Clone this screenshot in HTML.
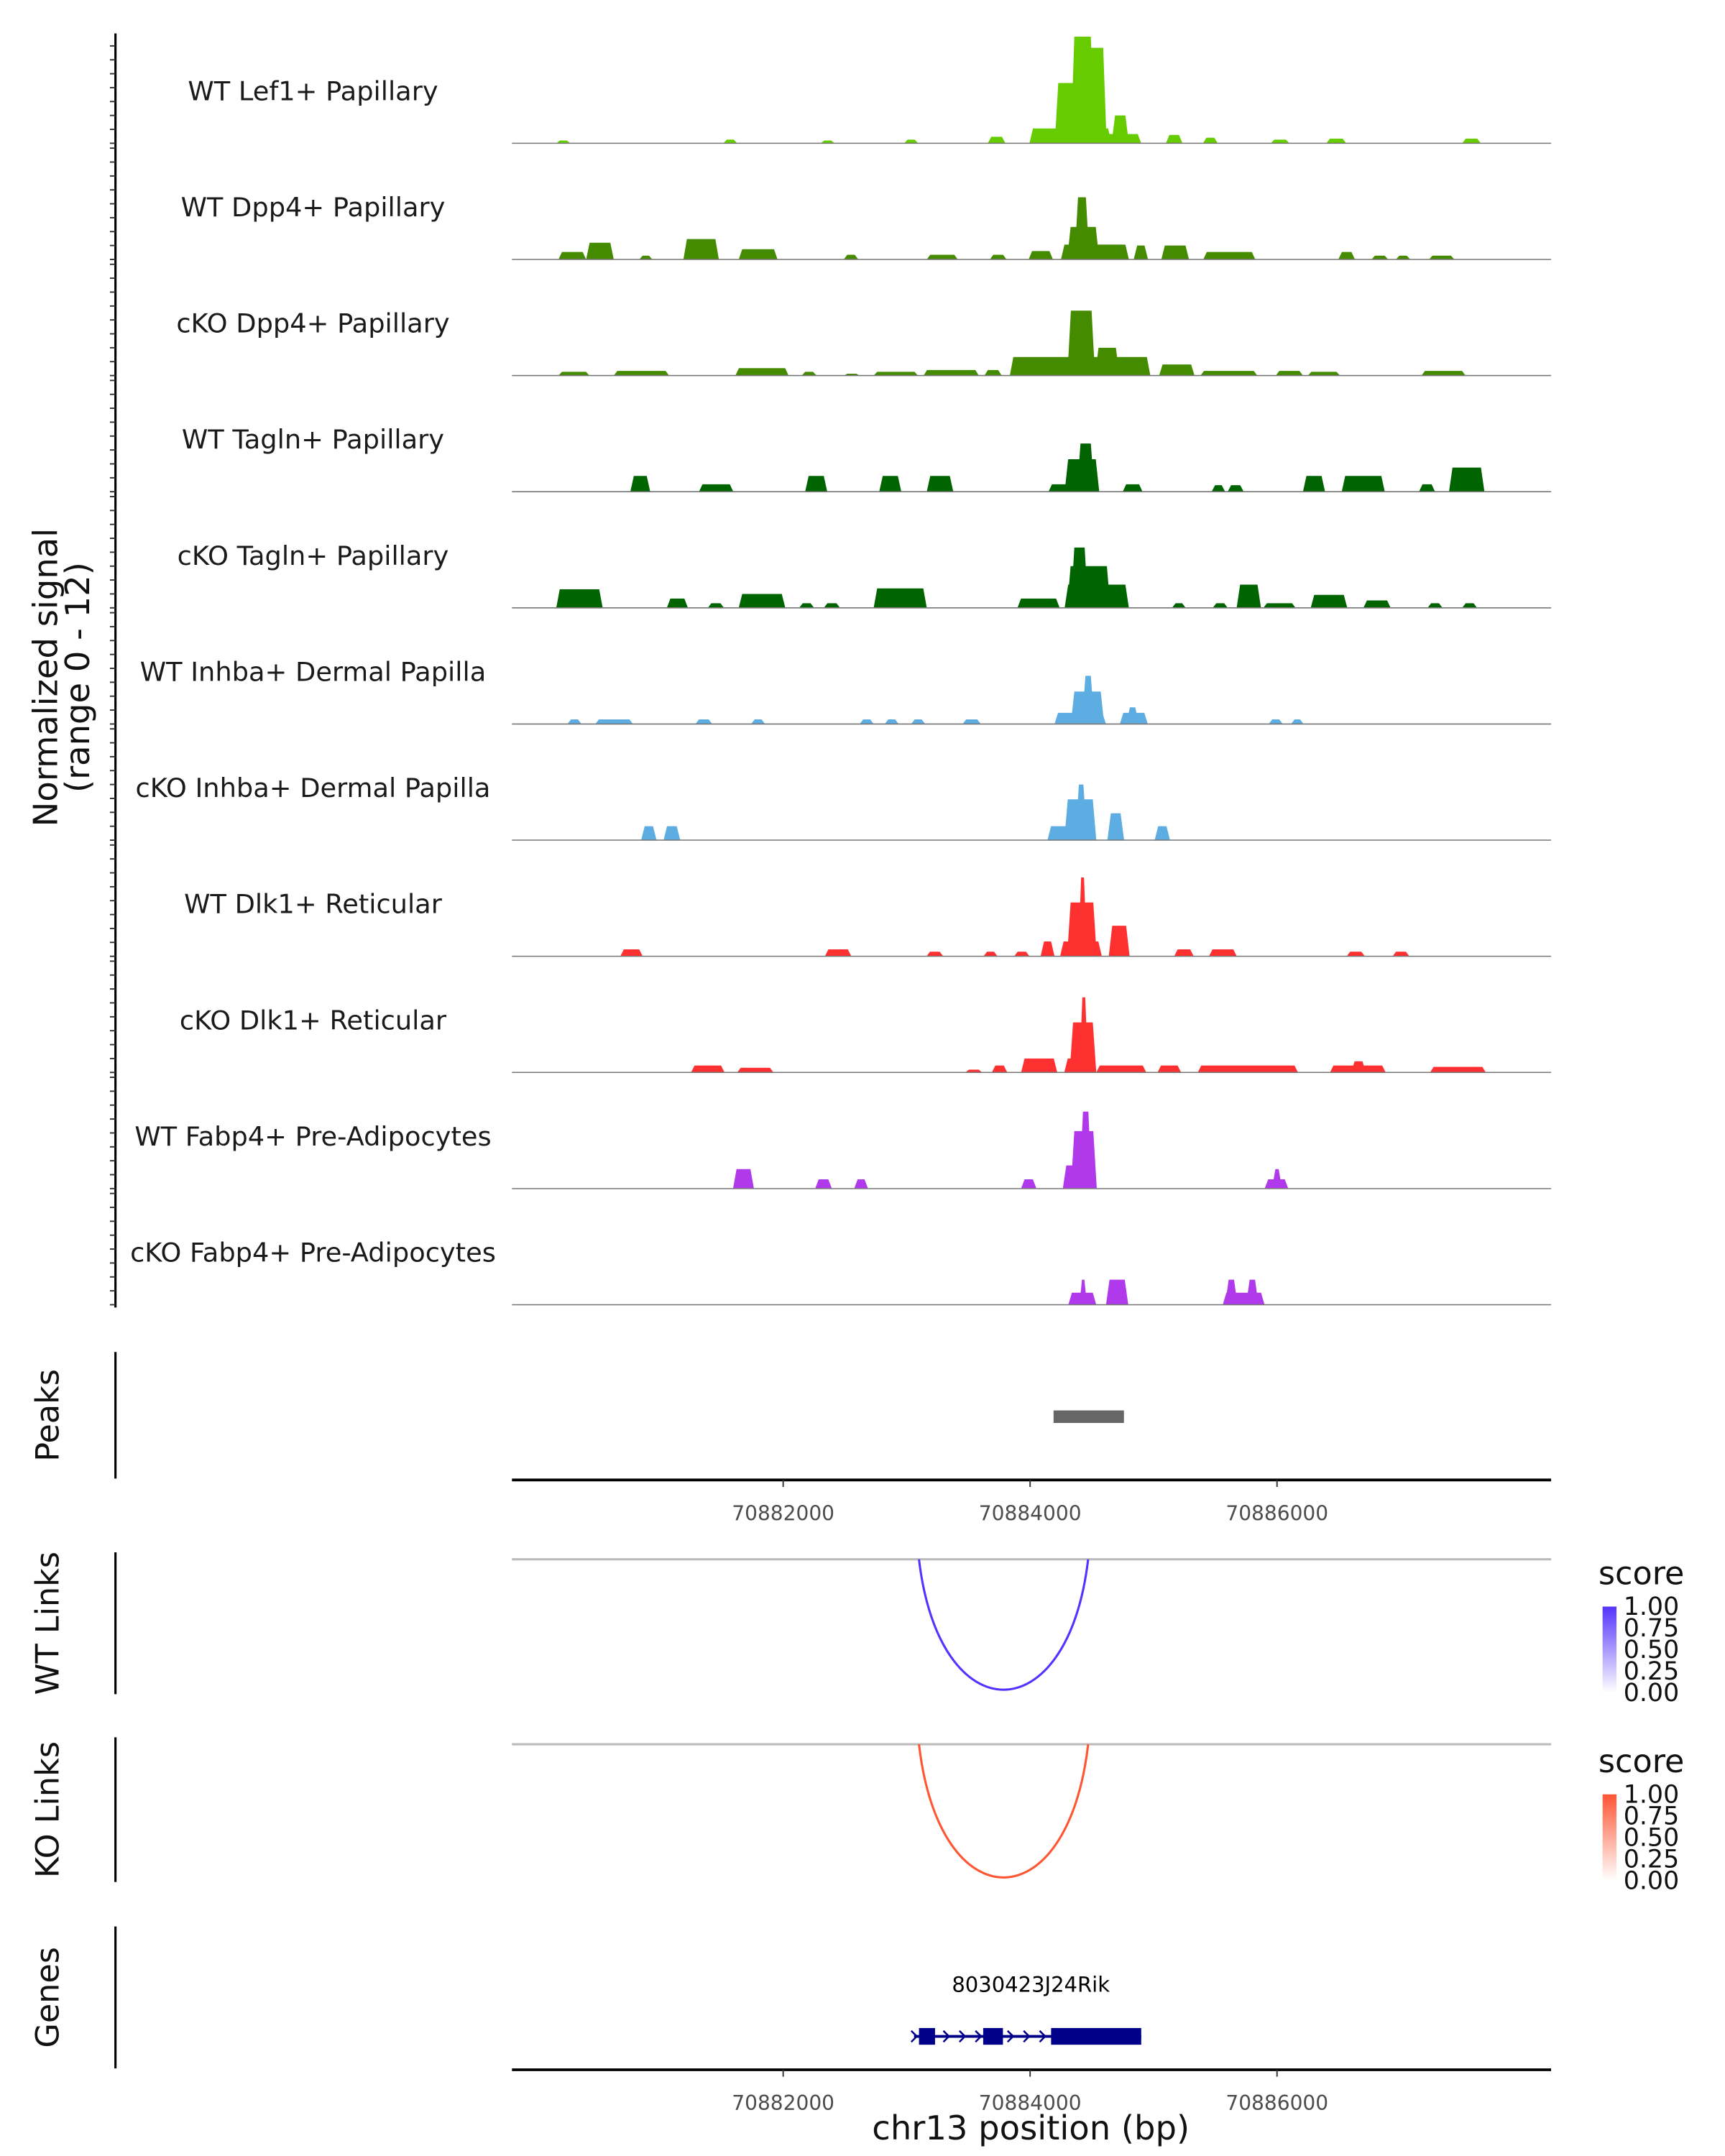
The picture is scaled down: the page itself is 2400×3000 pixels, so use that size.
<!DOCTYPE html>
<html><head><meta charset="utf-8">
<style>
html,body{margin:0;padding:0;background:#fff;}
svg{display:block;font-family:"DejaVu Sans","Liberation Sans",sans-serif;}
</style></head>
<body>
<svg id="chart" xmlns="http://www.w3.org/2000/svg" width="2400" height="3000" viewBox="0 0 1240 1550">
  <g id="tracks"></g>
  <g id="axes"></g>
</svg>
<script>
// ---- data ----
const trackNames = ["WT Lef1+ Papillary","WT Dpp4+ Papillary","cKO Dpp4+ Papillary","WT Tagln+ Papillary","cKO Tagln+ Papillary","WT Inhba+ Dermal Papilla","cKO Inhba+ Dermal Papilla","WT Dlk1+ Reticular","cKO Dlk1+ Reticular","WT Fabp4+ Pre-Adipocytes","cKO Fabp4+ Pre-Adipocytes"];
const trackColors = ["#66cc00","#458b00","#458b00","#006400","#006400","#5dade2","#5dade2","#ff3030","#ff3030","#b03aeb","#b03aeb"];
const xTicks = [70882000,70884000,70886000];
const regionStart = 70879803, regionEnd = 70888220;
const yMax = 12;
// peaks per track: [startBp, endBp, signal]
const sigLef1 = [[70880163,70880276,0.3],[70881515,70881628,0.4],[70882304,70882417,0.3],[70882980,70883093,0.4],[70883657,70883800,0.7],[70883995,70884660,1.6],[70884200,70884420,6.5],[70884330,70884520,11.5],[70884430,70884620,10.3],[70884660,70884800,3],[70884600,70884900,1],[70885100,70885234,0.9],[70885400,70885520,0.6],[70885950,70886100,0.4],[70886400,70886560,0.5],[70887500,70887650,0.5]];
const sigDpp4WT = [[70880180,70880404,0.8],[70880404,70880628,1.8],[70880834,70880941,0.4],[70881192,70881479,2.2],[70881640,70881954,1.1],[70882491,70882608,0.5],[70883163,70883414,0.5],[70883674,70883809,0.5],[70883988,70884185,0.9],[70884250,70884800,1.6],[70884300,70884560,3.5],[70884360,70884480,6.7],[70884839,70884955,1.5],[70885063,70885287,1.5],[70885403,70885824,0.8],[70886497,70886631,0.8],[70886765,70886900,0.4],[70886963,70887079,0.4],[70887231,70887437,0.4]];
const sigDpp4KO = [[70880180,70880431,0.4],[70880628,70881076,0.5],[70881613,70882044,0.8],[70882150,70882270,0.4],[70882491,70882620,0.2],[70882733,70883092,0.4],[70883137,70883585,0.6],[70883630,70883770,0.6],[70883836,70884974,2],[70884302,70884526,7],[70884526,70884723,3],[70885045,70885332,1.2],[70885380,70885840,0.5],[70885990,70886210,0.5],[70886250,70886510,0.4],[70887170,70887527,0.5]];
const sigTaglnWT = [[70880762,70880923,1.7],[70881318,70881596,0.8],[70882178,70882357,1.7],[70882778,70882957,1.7],[70883163,70883378,1.7],[70884149,70884560,0.8],[70884280,70884560,3.5],[70884380,70884520,5.2],[70884750,70884911,0.8],[70885470,70885580,0.7],[70885600,70885730,0.7],[70886210,70886389,1.7],[70886524,70886873,1.7],[70887150,70887280,0.8],[70887393,70887680,2.6]];
const sigTaglnKO = [[70880162,70880538,2],[70881058,70881228,1],[70881390,70881520,0.5],[70881640,70882017,1.5],[70882130,70882250,0.5],[70882330,70882460,0.5],[70882733,70883163,2.1],[70883898,70884239,1],[70884280,70884800,2.5],[70884300,70884650,4.5],[70884330,70884470,6.5],[70885150,70885260,0.5],[70885480,70885600,0.5],[70885673,70885870,2.5],[70885890,70886150,0.5],[70886273,70886569,1.4],[70886700,70886920,0.8],[70887220,70887340,0.5],[70887500,70887620,0.5]];
const sigInhbaWT = [[70880253,70880366,0.5],[70880479,70880783,0.5],[70881290,70881425,0.5],[70881741,70881853,0.5],[70882620,70882733,0.5],[70882823,70882935,0.5],[70883037,70883150,0.5],[70883454,70883600,0.5],[70884198,70884614,1.2],[70884330,70884600,3.5],[70884420,70884520,5.2],[70884727,70884953,1.2],[70884780,70884880,1.8],[70885933,70886046,0.5],[70886114,70886215,0.5]];
const sigInhbaKO = [[70880850,70880974,1.5],[70881031,70881166,1.5],[70884141,70884536,1.5],[70884277,70884536,4.4],[70884367,70884460,6],[70884626,70884761,2.9],[70885009,70885133,1.5]];
const sigDlk1WT = [[70880681,70880862,0.75],[70882338,70882552,0.75],[70883161,70883296,0.5],[70883623,70883736,0.5],[70883871,70883995,0.5],[70884085,70884198,1.6],[70884243,70884581,1.6],[70884300,70884540,5.8],[70884390,70884460,8.5],[70884637,70884806,3.3],[70885167,70885325,0.75],[70885449,70885674,0.75],[70886564,70886711,0.5],[70886936,70887072,0.5]];
const sigDlk1KO = [[70881254,70881525,0.75],[70881628,70881921,0.5],[70883476,70883612,0.3],[70883690,70883815,0.75],[70883927,70884220,1.5],[70884277,70884536,1.5],[70884320,70884536,5.4],[70884400,70884470,8.1],[70884536,70884941,0.75],[70885032,70885223,0.75],[70885358,70886170,0.75],[70886429,70886880,0.75],[70886600,70886720,1.2],[70887240,70887691,0.6]];
const sigFabp4WT = [[70881594,70881763,2.1],[70882259,70882394,1],[70882575,70882687,1],[70883927,70884051,1],[70884265,70884540,2.5],[70884330,70884540,6.2],[70884400,70884500,8.3],[70885900,70886091,1],[70885960,70886040,2.1]];
const sigFabp4KO = [[70884310,70884536,1.3],[70884400,70884460,2.7],[70884615,70884795,2.7],[70885561,70885899,1.3],[70885580,70885680,2.7],[70885750,70885850,2.7]];
const trackSignals = [sigLef1,sigDpp4WT,sigDpp4KO,sigTaglnWT,sigTaglnKO,sigInhbaWT,sigInhbaKO,sigDlk1WT,sigDlk1KO,sigFabp4WT,sigFabp4KO];
const peakRegions = [[70884190,70884760]];
const linkStartsWT = [70883100]; const linkEndsWT = [70884470]; const linkScoresWT = [0.8];
const linkStartsKO = [70883100]; const linkEndsKO = [70884470]; const linkScoresKO = [0.8];
const geneName = "8030423J24Rik";
const geneStart = 70883060, geneEnd = 70884900;
const geneExons = [[70883100,70883230],[70883620,70883780],[70884170,70884900]];
const legendTicks = ["1.00","0.75","0.50","0.25","0.00"];

// ---- scales ----
const X0 = 368, X1 = 1115;
const xs = bp => X0 + (bp - regionStart) / (regionEnd - regionStart) * (X1 - X0);
const base0 = 103, trackStep = 83.5, trackH = 80;
const ys = (i, v) => base0 + i * trackStep - v / yMax * trackH;

const NS = "http://www.w3.org/2000/svg";
function mk(tag, attrs, parent, text){
  const e = document.createElementNS(NS, tag);
  for (const k in attrs) e.setAttribute(k, attrs[k]);
  if (text !== undefined) e.textContent = text;
  parent.appendChild(e); return e;
}
const tracks = document.getElementById("tracks");
const axes = document.getElementById("axes");

trackNames.forEach((name, i) => {
  const g = mk("g", {}, tracks);
  
  
  const base = ys(i, 0);
  trackSignals[i].forEach(s => {
    const x0 = xs(s[0]), x1 = xs(s[1]), yt = ys(i, s[2]);
    const sl = Math.min(2.5, (x1 - x0) / 3);
    const p = mk("polygon", {points: `${x0},${base} ${x0+sl},${yt} ${x1-sl},${yt} ${x1},${base}`, fill: trackColors[i]}, g);
    
    
  });
  const bl = mk("line", {x1: X0, x2: X1, y1: base, y2: base, stroke: "#777", "stroke-width": 0.8}, g);
  
  
  const lb = mk("text", {x: 225, y: base - 31, "text-anchor": "middle", "font-size": 19, fill: "#1a1a1a"}, g, name);
  
  
});

// left signal axis
const ax = mk("line", {x1: 83, x2: 83, y1: 24, y2: 940, stroke: "#000", "stroke-width": 1.6}, axes);


for (let i = 0; i < 11; i++) {
  for (let k = 0; k <= 8; k++) {
    const y = ys(i, k * 1.5);
    if (y < 24) continue;
    const t = mk("line", {x1: 79, x2: 83, y1: y, y2: y, stroke: "#333", "stroke-width": 1}, axes);
    
    
  }
}
const yt1 = mk("text", {transform: "translate(41,487) rotate(-90)", "text-anchor": "middle", "font-size": 24, fill: "#111"}, axes, "Normalized signal");


const yt2 = mk("text", {transform: "translate(64,487) rotate(-90)", "text-anchor": "middle", "font-size": 24, fill: "#111"}, axes, "(range 0 - 12)");



function panelAxis(y0, y1, label, nm){
  const l = mk("line", {x1: 83, x2: 83, y1: y0, y2: y1, stroke: "#000", "stroke-width": 1.6}, axes);
  
  
  const t = mk("text", {transform: `translate(42,${(y0+y1)/2}) rotate(-90)`, "text-anchor": "middle", "font-size": 23, fill: "#111"}, axes, label);
  
  
}
function xAxis(y, nm){
  const l = mk("line", {x1: X0, x2: X1, y1: y, y2: y, stroke: "#000", "stroke-width": 2}, axes);
  
  
  xTicks.forEach(v => {
    const t = mk("line", {x1: xs(v), x2: xs(v), y1: y, y2: y + 5, stroke: "#333", "stroke-width": 1}, axes);
    
    
    const tl = mk("text", {x: xs(v), y: y + 29, "text-anchor": "middle", "font-size": 14.5, fill: "#4d4d4d"}, axes, String(v));
    
    
  });
}

// Peaks
panelAxis(972, 1063, "Peaks", "peaks");
peakRegions.forEach(p => {
  const r = mk("rect", {x: xs(p[0]), y: 1014, width: xs(p[1]) - xs(p[0]), height: 9, fill: "#666"}, axes);
  
  
});
xAxis(1064, 'peaks-x-axis');

// Links
function links(starts, ends, scores, topY, botY, color, nm, legY){
  panelAxis(topY - 5, botY + 3, nm === 'wt' ? "WT Links" : "KO Links", nm + '-links');
  const gl = mk("line", {x1: X0, x2: X1, y1: topY, y2: topY, stroke: "#bbb", "stroke-width": 1.6}, axes);
  
  
  starts.forEach((s, i) => {
    const a = xs(s), b = xs(ends[i]);
    const depth = (botY - topY) * scores[i] / 0.8;
    const p = mk("path", {d: `M${a},${topY} C${a+(b-a)*0.12},${topY + depth*1.33} ${b-(b-a)*0.12},${topY + depth*1.33} ${b},${topY}`, fill: "none", stroke: color, "stroke-width": 1.6}, axes);
    
    
  });
  const st = mk("text", {x: 1149, y: legY, "font-size": 23, fill: "#111"}, axes, "score");
  
  
  const gid = 'grad-' + nm;
  const defs = mk("defs", {}, axes);
  const lg = mk("linearGradient", {id: gid, x1: 0, y1: 0, x2: 0, y2: 1}, defs);
  mk("stop", {offset: 0, "stop-color": color}, lg);
  mk("stop", {offset: 1, "stop-color": "#ffffff"}, lg);
  const bar = mk("rect", {x: 1152, y: legY + 16, width: 10, height: 62, fill: `url(#${gid})`}, axes);
  
  
  legendTicks.forEach((t, i) => {
    const tx = mk("text", {x: 1167, y: legY + 22 + i * 15.5, "font-size": 18, fill: "#111"}, axes, t);
    
    
  });
}
links(linkStartsWT, linkEndsWT, linkScoresWT, 1121, 1215, "#5533ff", 'wt', 1139);
links(linkStartsKO, linkEndsKO, linkScoresKO, 1254, 1350, "#ff5533", 'ko', 1274);

// Genes
panelAxis(1385, 1487, "Genes", "genes");
const gn = mk("text", {x: 741, y: 1432, "text-anchor": "middle", "font-size": 15, fill: "#000"}, axes, geneName);


const GY = 1464;
const gline = mk("line", {x1: xs(geneStart), x2: xs(geneEnd), y1: GY, y2: GY, stroke: "#00008b", "stroke-width": 2}, axes);


geneExons.forEach(e => {
  const r = mk("rect", {x: xs(e[0]), y: GY - 6, width: xs(e[1]) - xs(e[0]), height: 12, fill: "#00008b"}, axes);
  
  
});
for (let bp = geneStart; bp < geneEnd - 700; bp += 130) {
  const x = xs(bp);
  const c = mk("path", {d: `M${x-2},${GY-4} L${x+2},${GY} L${x-2},${GY+4}`, fill: "none", stroke: "#00008b", "stroke-width": 1.3}, axes);
  
  
}
xAxis(1488, 'genes-x-axis');
const xt = mk("text", {x: 741, y: 1538, "text-anchor": "middle", "font-size": 24, fill: "#111"}, axes, "chr13 position (bp)");


</script>
</body></html>
